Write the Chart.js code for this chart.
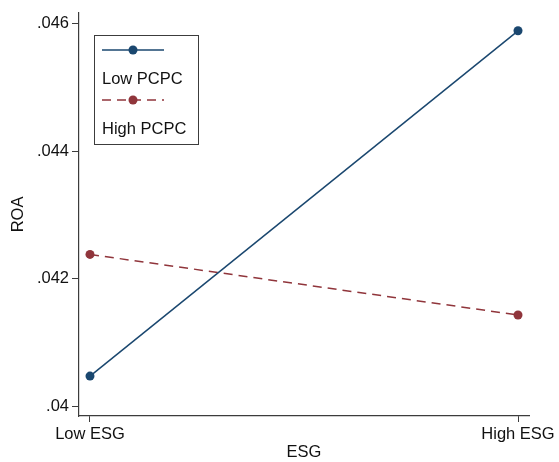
<!DOCTYPE html>
<html>
<head>
<meta charset="utf-8">
<script src="https://cdn.jsdelivr.net/npm/chart.js@4.4.1/dist/chart.umd.min.js"></script>
<style>
  html, body { margin: 0; padding: 0; background: #fff; }
  #wrap { width: 559px; height: 462px; }
</style>
</head>
<body>
<div id="wrap"><canvas id="roaChart" width="559" height="462"></canvas></div>
<script>
// Chart values
var categories = ["Low ESG", "High ESG"];
var lowPCPC = [0.04047, 0.04589];
var highPCPC = [0.04238, 0.04143];
var yTicks = [0.04, 0.042, 0.044, 0.046];
var yTickLabels = [".04", ".042", ".044", ".046"];

var blue = "#1a476f";
var red = "#90353b";
var axisColor = "#3c3c3c";
var fontFamily = "'Liberation Sans', Arial, sans-serif";
var fontSize = 16.5;

function toPoints(values) {
  return values.map(function (v, i) { return { x: i, y: v }; });
}

// Stata style legend: symbol row above label row, inside a box
var boxLegend = {
  id: "boxLegend",
  afterDraw: function (chart) {
    var c = chart.ctx;
    var x = 94, y = 35, w = 104, h = 109;
    c.save();
    c.fillStyle = "#fff";
    c.fillRect(x, y, w, h);
    c.strokeStyle = axisColor;
    c.lineWidth = 1;
    c.strokeRect(x + 0.5, y + 0.5, w, h);
    chart.data.datasets.forEach(function (ds, i) {
      var ly = y + 15 + i * 50;
      c.strokeStyle = ds.borderColor;
      c.lineWidth = ds.borderWidth;
      c.setLineDash(ds.borderDash || []);
      c.beginPath();
      c.moveTo(102, ly);
      c.lineTo(164, ly);
      c.stroke();
      c.setLineDash([]);
      c.fillStyle = ds.pointBackgroundColor;
      c.beginPath();
      c.arc(133, ly, ds.pointRadius, 0, Math.PI * 2);
      c.fill();
      c.fillStyle = "#111";
      c.font = fontSize + "px " + fontFamily;
      c.textBaseline = "middle";
      c.textAlign = "left";
      c.fillText(ds.label, 102, ly + 29);
    });
    c.restore();
  }
};

var ctx = document.getElementById("roaChart").getContext("2d");

var roaChart = new Chart(ctx, {
  type: "line",
  data: {
    datasets: [
      {
        label: "Low PCPC",
        data: toPoints(lowPCPC),
        borderColor: blue,
        backgroundColor: blue,
        pointBackgroundColor: blue,
        pointBorderWidth: 0,
        pointRadius: 4.5,
        borderWidth: 1.5,
        tension: 0,
      },
      {
        label: "High PCPC",
        data: toPoints(highPCPC),
        borderColor: red,
        backgroundColor: red,
        pointBackgroundColor: red,
        pointBorderWidth: 0,
        pointRadius: 4.5,
        borderWidth: 1.5,
        borderDash: [9, 6],
        tension: 0,
      },
    ],
  },
  options: {
    responsive: false,
    animation: false,
    layout: { padding: { left: 0, right: 30, top: 10, bottom: 0 } },
    plugins: {
      legend: { display: false },
      tooltip: { enabled: false },
    },
    scales: {
      x: {
        type: "linear",
        min: -0.0257,
        max: 1.0257,
        afterBuildTicks: function (scale) {
          scale.ticks = categories.map(function (c, i) { return { value: i }; });
        },
        afterFit: function (scale) { scale.height = 46; },
        ticks: {
          autoSkip: false,
          maxRotation: 0,
          padding: 3,
          color: "#111",
          font: { family: fontFamily, size: fontSize },
          callback: function (v) { return categories[v]; },
        },
        grid: {
          drawOnChartArea: false,
          drawTicks: true,
          tickLength: 6,
          color: axisColor,
        },
        border: { display: true, color: axisColor, width: 1.2 },
        title: {
          display: true,
          text: "ESG",
          color: "#111",
          font: { family: fontFamily, size: fontSize },
          padding: { top: 0, bottom: 0 },
        },
      },
      y: {
        min: 0.039844,
        max: 0.046171,
        afterBuildTicks: function (scale) {
          scale.ticks = yTicks.map(function (v) { return { value: v }; });
        },
        afterFit: function (scale) { scale.width = 79; },
        ticks: {
          padding: 3,
          color: "#111",
          font: { family: fontFamily, size: fontSize },
          callback: function (v) { return yTickLabels[yTicks.indexOf(v)]; },
        },
        grid: {
          drawOnChartArea: false,
          drawTicks: true,
          tickLength: 7,
          color: axisColor,
        },
        border: { display: true, color: axisColor, width: 1.2 },
        title: {
          display: true,
          text: "ROA",
          color: "#111",
          font: { family: fontFamily, size: fontSize },
          padding: { top: 9, bottom: 0 },
        },
      },
    },
  },
  plugins: [boxLegend],
});
</script>
</body>
</html>
